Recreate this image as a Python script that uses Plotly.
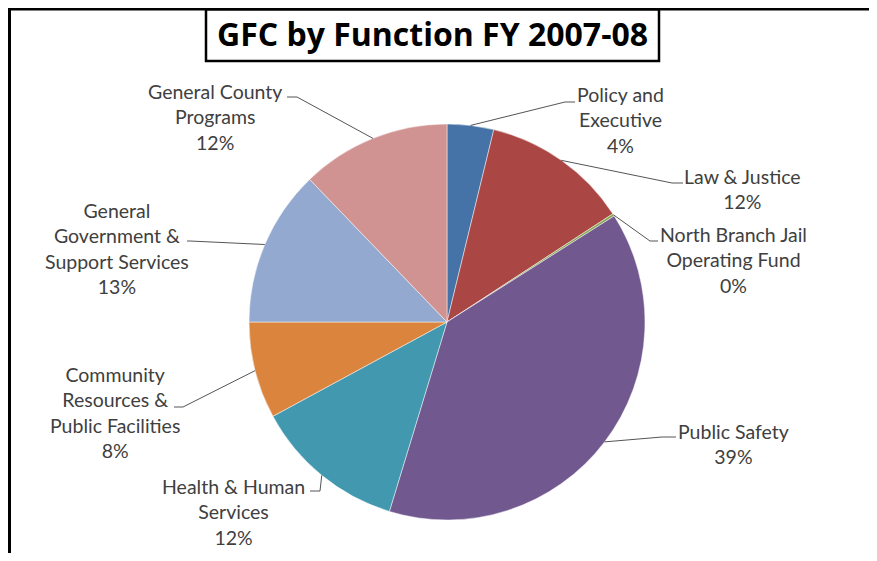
import math
import plotly.graph_objects as go

# ---- data ----
categories = [
    "Policy and<br>Executive",
    "Law & Justice",
    "North Branch Jail<br>Operating Fund",
    "Public Safety",
    "Health & Human<br>Services",
    "Community<br>Resources &<br>Public Facilities",
    "General<br>Government &<br>Support Services",
    "General County<br>Programs",
]
shares = [3.8, 12.0, 0.2, 38.7, 12.4, 7.9, 12.8, 12.2]
title_text = "GFC by Function FY 2007-08"

# ---- style / layout ----
colors = ["#4572A7", "#AA4643", "#89A54E", "#71588F", "#4198AF",
          "#DB843D", "#93A9CF", "#D19392"]
OFF = 8                           # page body margin
W, H = 877 - OFF, 561 - 2 * OFF   # figure size (no scrollbar)
CX, CY, R = 447, 322, 198         # pie geometry in window pixels

# label block centres (px) and leader elbow/end points (px), window coords
label_pos = [(620, 120.5), (742, 189), (733, 260), (733, 444),
             (233, 512), (115, 412.5), (117, 248), (215, 117)]
leader_pts = [[(565, 102), (575, 102)], [(672, 183), (683, 183)],
              [(650, 241), (658, 241)], [(662, 437), (676, 437)],
              [(320, 491), (310, 491)], [(183, 407), (174, 407)],
              [(190, 241), (187, 241)], [(297, 97), (287, 97)]]


def px(x):
    return (x - OFF) / W


def py(y):
    return 1 - (y - OFF) / H


fig = go.Figure(go.Pie(
    labels=[c.replace("<br>", " ") for c in categories],
    values=shares,
    sort=False,
    direction="clockwise",
    rotation=0,
    marker=dict(colors=colors, line=dict(color="rgba(255,255,255,0.6)", width=0.8)),
    textinfo="none",
    hoverinfo="label+percent",
    domain=dict(x=[px(CX - R), px(CX + R)], y=[py(CY + R), py(CY - R)]),
    showlegend=False,
))

shapes = []
annotations = []
total = sum(shares)
cum = 0.0
for i, v in enumerate(shares):
    mid = (cum + v / 2) / total
    cum += v
    th = 2 * math.pi * mid
    ax = CX + R * math.sin(th)
    ay = CY - R * math.cos(th)
    pts = [(ax, ay)] + leader_pts[i]
    path = "M " + " L ".join(f"{px(x)},{py(y)}" for x, y in pts)
    shapes.append(dict(type="path", xref="paper", yref="paper", path=path,
                       line=dict(color="#555555", width=1)))
    lx, ly = label_pos[i]
    annotations.append(dict(
        x=px(lx), y=py(ly), xref="paper", yref="paper",
        text=f"{categories[i]}<br>{round(v / total * 100)}%",
        showarrow=False, xanchor="center", yanchor="middle", align="center",
        font=dict(family="Lato", size=19.5, color="#404040"),
    ))

# outer frame
shapes += [
    dict(type="line", xref="paper", yref="paper", x0=px(9.5), x1=px(9.5),
         y0=py(8.5), y1=0, line=dict(color="black", width=3)),
    dict(type="line", xref="paper", yref="paper", x0=px(8), x1=px(877),
         y0=py(9), y1=py(9), line=dict(color="black", width=3)),
    dict(type="rect", xref="paper", yref="paper", x0=px(206), x1=px(659),
         y0=py(61), y1=py(9.5), line=dict(color="black", width=2.5),
         fillcolor="white"),
]
annotations.append(dict(
    x=px(432.5), y=py(33.5), xref="paper", yref="paper", text=title_text,
    showarrow=False, xanchor="center", yanchor="middle",
    font=dict(family="Open Sans", size=32, color="black", weight="bold"),
))

fig.update_layout(
    width=W, height=H, autosize=False,
    margin=dict(l=0, r=0, t=0, b=0),
    paper_bgcolor="white", plot_bgcolor="white",
    shapes=shapes, annotations=annotations,
)

fig.write_html("out.html")
